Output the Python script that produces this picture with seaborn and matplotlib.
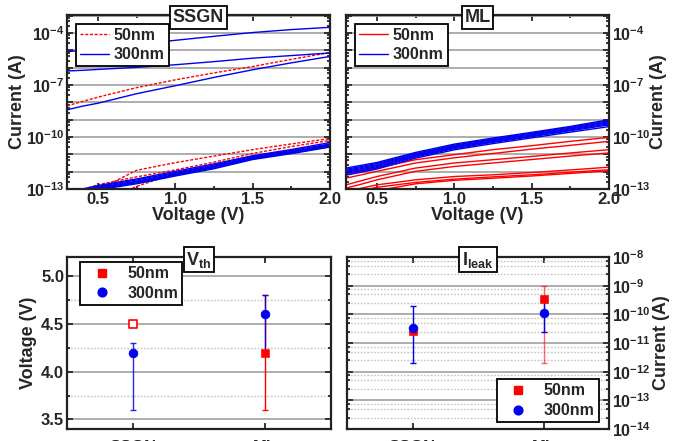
import numpy as np
import pandas as pd
import matplotlib
matplotlib.use("Agg")
import matplotlib.pyplot as plt
import matplotlib.ticker as mticker
import seaborn as sns

# ---------------- data ----------------
V = [0.3, 0.4, 0.5, 0.75, 1.0, 1.25, 1.5, 1.75, 2.0]

# SSGN I-V curves, log10(I / A)
ssgn_50nm = [
    [-8.20, -7.95, -7.70, -7.15, -6.70, -6.30, -5.93, -5.52, -5.12],
    [-13.90, -13.40, -13.05, -11.92, -11.48, -11.10, -10.73, -10.40, -10.09],
    [-13.50, -13.05, -12.75, -12.30, -11.90, -11.45, -10.95, -10.55, -10.20],
    [-14.50, -14.20, -13.80, -12.85, -12.10, -11.60, -11.15, -10.80, -10.45],
]
ssgn_300nm = [
    [-5.08, -4.99, -4.89, -4.65, -4.42, -4.19, -3.97, -3.80, -3.67],
    [-6.19, -6.15, -6.10, -5.98, -5.83, -5.65, -5.45, -5.30, -5.15],
    [-8.43, -8.22, -8.05, -7.50, -7.04, -6.56, -6.12, -5.72, -5.35],
    [-13.60, -13.00, -12.80, -12.42, -11.98, -11.55, -11.08, -10.72, -10.32],
    [-13.70, -13.10, -12.85, -12.48, -12.05, -11.62, -11.12, -10.78, -10.40],
    [-13.80, -13.20, -12.90, -12.55, -12.10, -11.68, -11.18, -10.83, -10.45],
    [-13.90, -13.30, -12.95, -12.60, -12.16, -11.72, -11.22, -10.88, -10.50],
    [-14.00, -13.40, -13.00, -12.65, -12.20, -11.78, -11.26, -10.92, -10.55],
    [-14.10, -13.50, -13.05, -12.70, -12.25, -11.83, -11.30, -10.96, -10.58],
]
# ML I-V curves, log10(I / A)
ml_50nm = [
    [-12.18, -11.98, -11.79, -11.31, -11.02, -10.73, -10.50, -10.25, -10.02],
    [-12.37, -12.18, -11.98, -11.50, -11.20, -10.95, -10.70, -10.48, -10.25],
    [-12.76, -12.52, -12.28, -11.79, -11.50, -11.31, -11.12, -10.92, -10.73],
    [-12.95, -12.72, -12.47, -11.98, -11.70, -11.50, -11.30, -11.10, -10.92],
    [-13.15, -12.95, -12.76, -12.47, -12.28, -12.18, -12.05, -11.90, -11.74],
    [-13.30, -13.10, -12.90, -12.62, -12.43, -12.30, -12.18, -12.03, -11.89],
    [-13.05, -13.30, -13.10, -12.70, -12.50, -12.38, -12.25, -12.10, -11.95],
]
ml_300nm = [
    [-11.79, -11.63, -11.47, -10.89, -10.41, -10.06, -9.73, -9.39, -9.00],
    [-11.86, -11.70, -11.53, -10.95, -10.47, -10.11, -9.78, -9.44, -9.06],
    [-11.92, -11.76, -11.59, -11.00, -10.52, -10.16, -9.83, -9.49, -9.12],
    [-11.98, -11.82, -11.65, -11.05, -10.57, -10.21, -9.88, -9.54, -9.18],
    [-12.04, -11.88, -11.71, -11.10, -10.62, -10.26, -9.93, -9.59, -9.24],
    [-12.10, -11.94, -11.77, -11.15, -10.67, -10.31, -9.98, -9.64, -9.30],
    [-12.20, -12.03, -11.85, -11.22, -10.74, -10.38, -10.05, -9.72, -9.40],
]

categories = ["SSGN", "ML"]
# Threshold voltage (V)
vth_50nm = [4.5, 4.2]
vth_50nm_lo = [4.5, 3.6]
vth_50nm_hi = [4.5, 4.8]
vth_300nm = [4.2, 4.6]
vth_300nm_lo = [3.6, 4.2]
vth_300nm_hi = [4.3, 4.8]
# Leakage current (A)
ileak_50nm = [2.6e-11, 3.5e-10]
ileak_50nm_lo = [2.6e-11, 2.0e-12]
ileak_50nm_hi = [2.6e-11, 1.0e-9]
ileak_300nm = [3.3e-11, 1.15e-10]
ileak_300nm_lo = [2.0e-12, 2.4e-11]
ileak_300nm_hi = [1.9e-10, 3.0e-10]

labels = ["50nm", "300nm"]

# ---------------- style ----------------
sns.set_theme(style="ticks")
plt.rcParams.update({
    "font.family": ["Liberation Sans", "DejaVu Sans"],
    "font.weight": "bold",
    "axes.labelweight": "bold",
    "mathtext.fontset": "custom",
    "mathtext.rm": "Liberation Sans:bold",
    "mathtext.it": "Liberation Sans:bold",
    "mathtext.bf": "Liberation Sans:bold",
    "mathtext.default": "rm",
    "axes.linewidth": 1.6,
    "axes.edgecolor": "#222222",
})

RED = "#ff0000"
BLUE = "#0000ee"
GRID = "#a0a0a0"
TICK_FS = 12
LOG_FS = 11.5
LABEL_FS = 13
LEG_FS = 11.5
TITLE_FS = 13

fig = plt.figure(figsize=(6.85, 4.41), dpi=100)
W, H = 685, 441
def add_ax(l, t, r, b):
    return fig.add_axes([l / W, 1 - b / H, (r - l) / W, (b - t) / H])

ax_tl = add_ax(67, 15, 330, 189)
ax_tr = add_ax(346, 15, 609, 189)
ax_bl = add_ax(67, 257, 331, 429)
ax_br = add_ax(347, 257, 609, 429)

def curves_df(groups):
    rows = []
    cid = 0
    for lab, curves in groups:
        for c in curves:
            for v, li in zip(V, c):
                rows.append({"V": v, "I": 10.0 ** li, "size": lab, "curve": cid})
            cid += 1
    return pd.DataFrame(rows)

def log_fmt(val, pos):
    e = int(round(np.log10(val)))
    return r"$10^{%d}$" % e

def title_box(ax, s):
    ax.text(0.5, 0.985, s, transform=ax.transAxes, ha="center", va="center",
            fontsize=TITLE_FS, fontweight="bold", zorder=10,
            bbox=dict(boxstyle="square,pad=0.15", fc="white", ec="black", lw=1.3))

def make_legend(ax, handles, loc, anchor, hl, htp):
    leg = ax.legend(handles, labels, loc=loc, bbox_to_anchor=anchor,
                    frameon=True, fancybox=False, edgecolor="black", framealpha=1,
                    prop={"weight": "bold", "size": LEG_FS}, handlelength=hl,
                    borderpad=0.25, labelspacing=0.3, handletextpad=htp, borderaxespad=0)
    leg.get_frame().set_linewidth(1.3)
    return leg

def iv_axes(ax, right):
    ax.set_yscale("log")
    ax.set_xlim(0.3, 2.0)
    ax.set_ylim(1e-13, 1.1e-3)
    ax.set_xticks([0.5, 1.0, 1.5, 2.0])
    ax.xaxis.set_minor_locator(mticker.MultipleLocator(0.25))
    ax.xaxis.set_major_formatter(mticker.FormatStrFormatter("%.1f"))
    ax.yaxis.set_major_locator(mticker.FixedLocator([10.0 ** e for e in range(-13, -2)]))
    ax.yaxis.set_major_formatter(mticker.FuncFormatter(
        lambda val, pos: log_fmt(val, pos) if int(round(np.log10(val))) in (-13, -10, -7, -4) else ""))
    ax.yaxis.set_minor_locator(mticker.LogLocator(base=10, subs=(2.5, 5.0, 7.5), numticks=30))
    ax.yaxis.set_minor_formatter(mticker.NullFormatter())
    ax.grid(True, which="major", axis="y", color=GRID, lw=1.2)
    ax.tick_params(which="both", direction="in", top=True, right=True, left=True, bottom=True,
                   labelsize=TICK_FS, width=1.3)
    ax.tick_params(axis="y", labelsize=LOG_FS)
    ax.tick_params(which="major", length=4.5, pad=2)
    ax.tick_params(which="minor", length=2.5)
    ax.set_xlabel("Voltage (V)", fontsize=LABEL_FS, fontweight="bold", labelpad=0)
    if right:
        ax.tick_params(labelleft=False, labelright=True)
        ax.yaxis.set_label_position("right")
    ax.set_ylabel("Current (A)", fontsize=LABEL_FS, fontweight="bold", labelpad=0)
    for t in ax.get_xticklabels() + ax.get_yticklabels():
        t.set_fontweight("bold")

# ---- top-left: SSGN ----
df_tl = curves_df([("50nm", ssgn_50nm), ("300nm", ssgn_300nm)])
sns.lineplot(data=df_tl, x="V", y="I", hue="size", style="size", units="curve",
             estimator=None, palette={"50nm": RED, "300nm": BLUE},
             dashes={"50nm": (2.2, 1.2), "300nm": ""}, lw=1.0, ax=ax_tl, legend=False,
             sort=False)
iv_axes(ax_tl, right=False)
title_box(ax_tl, "SSGN")
h1 = [plt.Line2D([], [], color=RED, lw=1.0, ls=(0, (2.2, 1.2))),
      plt.Line2D([], [], color=BLUE, lw=1.0)]
make_legend(ax_tl, h1, "upper left", (0.035, 0.95), 1.8, 0.3)

# ---- top-right: ML ----
df_tr = curves_df([("50nm", ml_50nm), ("300nm", ml_300nm)])
sns.lineplot(data=df_tr, x="V", y="I", hue="size", units="curve", estimator=None,
             palette={"50nm": RED, "300nm": BLUE}, lw=1.0, ax=ax_tr, legend=False, sort=False)
iv_axes(ax_tr, right=True)
title_box(ax_tr, "ML")
h2 = [plt.Line2D([], [], color=RED, lw=1.0), plt.Line2D([], [], color=BLUE, lw=1.0)]
make_legend(ax_tr, h2, "upper left", (0.035, 0.95), 1.8, 0.3)

# ---- bottom panels ----
df_vth = pd.DataFrame({"cat": categories * 2, "size": ["50nm"] * 2 + ["300nm"] * 2,
                       "val": vth_50nm + vth_300nm})
df_il = pd.DataFrame({"cat": categories * 2, "size": ["50nm"] * 2 + ["300nm"] * 2,
                      "val": ileak_50nm + ileak_300nm})
xpos = np.arange(len(categories))

def cat_axes(ax):
    ax.set_xlim(-0.5, 1.5)
    ax.set_xticks(xpos)
    ax.set_xticklabels(categories)
    ax.tick_params(which="both", direction="in", top=True, right=True, left=True, bottom=True,
                   labelsize=TICK_FS, width=1.3)
    ax.tick_params(which="major", length=4.5)
    ax.tick_params(which="minor", length=2.5)
    ax.tick_params(axis="x", which="major", pad=7.8)
    ax.tick_params(axis="y", which="major", pad=2)
    ax.tick_params(axis="x", which="minor", bottom=False, top=False)
    ax.set_xlabel("")
    for t in ax.get_xticklabels() + ax.get_yticklabels():
        t.set_fontweight("bold")

SQ = 26
CI = 40
# Vth
ax = ax_bl
ax.errorbar(xpos[1:], vth_50nm[1:],
            yerr=[[vth_50nm[1] - vth_50nm_lo[1]], [vth_50nm_hi[1] - vth_50nm[1]]],
            fmt="none", ecolor=RED, elinewidth=1.0, capsize=2.3, capthick=1.0, zorder=3)
ax.errorbar(xpos, vth_300nm,
            yerr=[np.array(vth_300nm) - np.array(vth_300nm_lo),
                  np.array(vth_300nm_hi) - np.array(vth_300nm)],
            fmt="none", ecolor=BLUE, elinewidth=1.0, capsize=2.3, capthick=1.0, alpha=0.85, zorder=4)
sub = df_vth[(df_vth["size"] == "50nm") & (df_vth["cat"] == "ML")]
sns.scatterplot(x=[1], y=sub["val"].values, marker="s", s=SQ, color=RED, edgecolor=RED,
                ax=ax, zorder=5, legend=False)
sub = df_vth[(df_vth["size"] == "50nm") & (df_vth["cat"] == "SSGN")]
sns.scatterplot(x=[0], y=sub["val"].values, marker="s", s=SQ, facecolor="white",
                edgecolor=RED, linewidth=1.2, ax=ax, zorder=5, legend=False)
sub = df_vth[df_vth["size"] == "300nm"]
sns.scatterplot(x=xpos, y=sub["val"].values, marker="o", s=CI, color=BLUE, edgecolor=BLUE,
                ax=ax, zorder=6, legend=False)
ax.set_ylim(3.4, 5.2)
ax.yaxis.set_major_locator(mticker.MultipleLocator(0.5))
ax.yaxis.set_minor_locator(mticker.MultipleLocator(0.25))
ax.yaxis.set_major_formatter(mticker.FormatStrFormatter("%.1f"))
ax.grid(True, which="major", axis="y", color=GRID, lw=1.2)
ax.grid(True, which="minor", axis="y", color="#c4c4c4", lw=1.0, ls=(0, (1.2, 1.2)))
ax.set_ylabel("Voltage (V)", fontsize=LABEL_FS, fontweight="bold", labelpad=3)
cat_axes(ax)
title_box(ax, r"V$_\mathregular{th}$")
h3 = [plt.Line2D([], [], color=RED, marker="s", ls="none", ms=5.2),
      plt.Line2D([], [], color=BLUE, marker="o", ls="none", ms=6.3)]
make_legend(ax, h3, "upper left", (0.05, 0.97), 2.2, 0.5)

# Ileak
ax = ax_br
ax.set_yscale("log")
ax.errorbar(xpos[1:], ileak_50nm[1:],
            yerr=[[ileak_50nm[1] - ileak_50nm_lo[1]], [ileak_50nm_hi[1] - ileak_50nm[1]]],
            fmt="none", ecolor=RED, elinewidth=1.0, capsize=2.3, capthick=1.0, alpha=0.6, zorder=3)
ax.errorbar(xpos, ileak_300nm,
            yerr=[np.array(ileak_300nm) - np.array(ileak_300nm_lo),
                  np.array(ileak_300nm_hi) - np.array(ileak_300nm)],
            fmt="none", ecolor=BLUE, elinewidth=1.0, capsize=2.3, capthick=1.0, zorder=4)
sub = df_il[df_il["size"] == "50nm"]
sns.scatterplot(x=xpos, y=sub["val"].values, marker="s", s=SQ + 6, color=RED, edgecolor=RED,
                ax=ax, zorder=5, legend=False)
sub = df_il[df_il["size"] == "300nm"]
sns.scatterplot(x=xpos, y=sub["val"].values, marker="o", s=CI, color=BLUE, edgecolor=BLUE,
                ax=ax, zorder=6, legend=False)
ax.set_ylim(1e-14, 1e-8)
ax.yaxis.set_major_locator(mticker.FixedLocator([10.0 ** e for e in range(-14, -7)]))
ax.yaxis.set_major_formatter(mticker.FuncFormatter(log_fmt))
ax.yaxis.set_minor_locator(mticker.LogLocator(base=10, subs=(2.5, 5.0, 7.5), numticks=30))
ax.yaxis.set_minor_formatter(mticker.NullFormatter())
ax.grid(True, which="major", axis="y", color=GRID, lw=1.2)
ax.grid(True, which="minor", axis="y", color="#c4c4c4", lw=1.0, ls=(0, (1.2, 1.2)))
cat_axes(ax)
ax.tick_params(axis="y", labelsize=LOG_FS)
ax.tick_params(labelleft=False, labelright=True)
ax.yaxis.set_label_position("right")
ax.set_ylabel("Current (A)", fontsize=LABEL_FS, fontweight="bold", labelpad=2)
title_box(ax, r"I$_\mathregular{leak}$")
make_legend(ax, h3, "lower right", (0.96, 0.04), 2.2, 0.5)

fig.savefig("out.png", dpi=100)
